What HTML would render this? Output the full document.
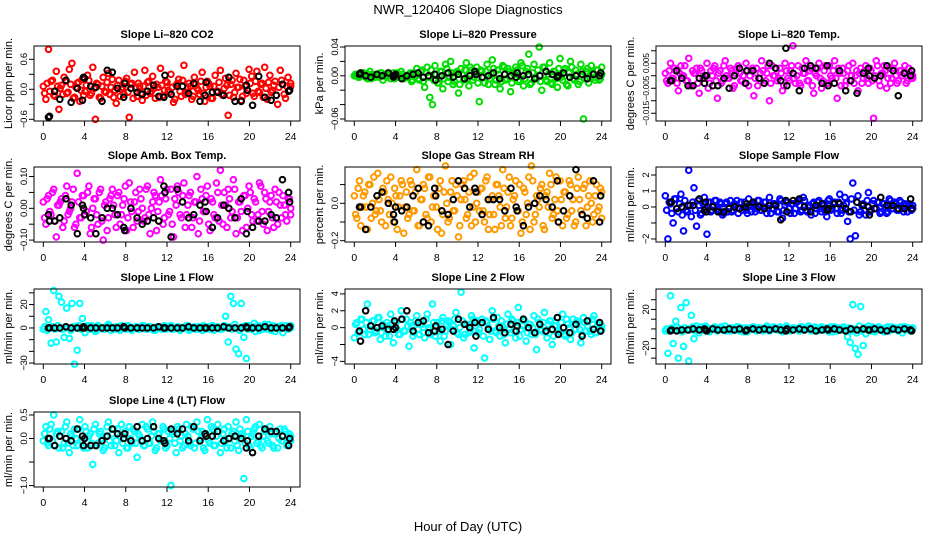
<!DOCTYPE html>
<html><head><meta charset="utf-8">
<style>
html,body{margin:0;padding:0;background:#fff;}
svg{display:block;font-family:"Liberation Sans",Arial,sans-serif;}
</style></head>
<body>
<svg id="chart" width="936" height="540" viewBox="0 0 936 540">
<text x="468" y="14" text-anchor="middle" font-size="13">NWR_120406  Slope Diagnostics</text>
<text x="468" y="531" text-anchor="middle" font-size="13">Hour of Day (UTC)</text>
</svg>
<script>
// ---- shared hour data ----
const blackHours = [0.5,0.6,1.1,1.6,2.2,2.7,3.3,3.8,3.9,4.0,4.6,5.1,5.7,6.2,6.7,7.2,7.8,7.9,8.5,9.1,9.6,10.1,10.7,11.2,11.7,11.8,12.4,13.0,13.5,14.1,14.6,15.2,15.7,15.8,16.4,16.9,17.5,18.0,18.6,19.2,19.7,19.8,20.3,20.9,21.5,22.1,22.6,23.2,23.8,23.9];
const xTicks = [0,4,8,12,16,20,24];

// ---- panel 1: CO2 (units of 0.02 ppm/min) ----
const co2Color = [3,-10,40,8,-6,18,-20,4,12,-4,20,26,-8,6,-12,10,-2,14,-6,22,-30,5,-9,12,-3,16,2,-8,-14,9,0,-5,11,-28,6,17,-7,3,-11,19,7,-4,13,-9,2,21,-6,8,-1,15,-13,4,10,-7,24,-3,6,-10,12,1,-5,17,-12,8,3,-9,14,-2,19,-6,11,-26,5,-8,16,2,-11,9,-4,20,13,-7,18,-3,6,22,-10,14,-1,8,-15,19,5,-9,12,3];
const co2Color2 = [-4,6,-2,9,-7,3,1,-5,8,-3,5,-9,2,7,-1,-6,4,9,-4,1,6,-8,3,-2,7,-5,10,-1,4,-7,2,8,-3,5,-9,1,6,-4,3,-6,8,-2,1,5,-8,4,-1,7,-3,2,-10,6,-2,9,-5,1,3,-7,5,-1,8,-4,2,6,-9,3,-2,7,-5,1,4,-6,9,-3,2,10,-7,3,-1,6,-4,8,-2,5,-8,1,7,-3,4,-6,2,9,-5,3,-1,6];
const co2Black = [-28,-27,-2,-10,9,-13,1,-11,12,11,3,2,-12,19,17,1,-8,6,1,-3,-5,-2,4,-7,-8,14,-5,3,3,-4,6,-12,-6,7,-3,-3,-6,12,-12,-12,4,-1,-16,13,-8,-11,-6,5,-2,-1];
// ---- panel 2: pressure (units of 0.002 kPa/min) ----
const presColor = [0,1,-1,2,0,-2,3,1,-1,0,2,-3,1,0,-2,2,1,-1,3,-2,0,1,-4,2,5,-3,4,-8,6,-15,-20,7,-5,3,-9,8,-4,10,-6,2,-12,5,-3,9,-7,4,-1,6,-18,3,-5,8,-2,11,-6,4,-9,7,-3,5,-11,2,6,-4,9,-7,3,15,-5,8,-2,20,-10,6,-4,9,-6,3,-8,12,-3,5,-7,10,-2,4,-6,8,-30,3,-5,7,-1,4,-3,6];
const presColor2 = [1,-1,0,2,-1,1,-2,0,1,-1,2,0,-1,1,0,-2,2,-1,1,0,-1,2,-3,1,-2,3,-4,2,-1,4,-3,1,-5,3,-2,5,-1,2,-4,3,-6,1,4,-2,6,-3,2,-5,4,-1,3,-6,2,5,-3,1,-4,6,-2,3,-5,1,4,-3,7,-2,5,-6,2,-1,4,-4,6,-3,1,-5,3,-2,5,-1,4,-6,2,6,-3,1,-4,3,-2,5,-1,2,-3,4,-2,1];
const presBlack = [1,2,0,-1,1,0,2,-1,0,1,-2,0,1,2,-1,0,1,-3,0,2,-1,1,-2,0,3,1,-1,0,2,-2,1,0,-1,2,0,1,-2,0,3,1,-1,0,2,-1,0,1,-2,1,0,2];
// ---- panel 3: Li-820 temp (units of 0.001 C/min) ----
const tempColor = [1,-3,5,-1,2,-6,4,0,-2,7,-4,1,3,-7,2,-1,5,-3,0,4,-9,2,-2,6,-1,3,-5,1,4,-2,0,5,-4,2,-8,3,-1,6,-3,1,-10,4,0,-2,3,-6,5,-1,2,12,-3,4,-4,1,6,-2,3,-7,0,5,-5,2,-3,4,-1,6,-9,1,3,-4,2,-2,5,0,-6,3,-1,4,-3,2,-17,6,-2,1,4,-5,3,-1,5,-3,2,0,4,-2,1,-1];
const tempColor2 = [-2,2,-1,3,-3,1,0,4,-2,-4,2,1,-3,3,-1,0,-5,2,3,-2,1,-3,4,0,-1,2,-4,3,1,-2,-3,2,0,3,-1,-4,1,2,-2,4,-3,0,3,-1,1,-4,2,-2,4,-1,0,-3,3,1,-2,2,-4,1,3,-1,-2,4,-3,0,2,-1,3,-4,1,-2,4,0,-3,2,1,-3,2,-1,3,-2,0,4,-4,1,2,-1,-3,3,0,-2,2,1,-3,3,-1,0];
const tempBlack = [-2,-2,2,-1,-4,-4,-1,-3,0,0,-4,-4,-1,-5,0,3,-3,2,2,-1,-3,5,3,-2,11,-4,1,-6,3,4,3,-3,4,-4,-3,2,-6,-2,-7,1,3,0,-1,0,4,2,-8,1,0,2];
// ---- panel 4: ambient box temp (units of 0.01 C/min) ----
const ambColor = [2,-5,4,-2,6,-9,1,3,-4,7,-1,2,-6,11,-3,4,-2,5,-8,0,3,-5,6,-10,2,-3,4,1,-6,5,-2,3,-7,8,-1,2,-4,6,0,-3,7,-8,2,4,-1,9,-5,3,-2,6,-9,1,5,-3,8,-2,4,-6,2,10,-4,3,-1,7,-7,2,-3,5,12,-5,1,6,-3,9,-8,2,-1,4,-6,7,-2,3,-4,8,-1,5,-7,2,-3,6,-5,1,4,-2,3,0];
const ambColor2 = [-3,3,-1,5,-4,1,2,-6,4,-2,0,6,-5,2,-3,4,-1,7,-6,3,-2,5,-4,1,-7,3,6,-2,4,-5,1,7,-3,2,-6,5,-1,3,-4,6,-2,0,5,-7,2,4,-3,6,-1,-5,3,7,-2,4,-6,1,5,-3,2,-8,6,-1,4,-5,3,-2,8,-4,1,5,-6,3,-1,6,-3,2,-7,4,0,5,-4,2,-2,7,-5,3,-1,4,-6,2,5,-3,1,-4,3,-2];
const ambBlack = [-2,-4,-4,-3,3,1,-8,1,0,-2,-3,-8,-3,0,0,-2,-6,-7,0,-3,-5,-4,-3,-4,7,5,-9,6,2,-3,-2,1,2,-1,-6,-3,1,0,-3,3,-8,-1,-6,-4,-4,-2,-3,9,5,2];
// ---- panel 5: gas stream RH (units of 0.02 %/min) ----
const rhColor = [2,-4,6,-1,3,-7,5,0,-3,8,-2,4,-6,1,7,-5,2,-1,6,-8,3,-3,5,-2,9,-6,1,4,-4,7,-1,2,-7,6,-3,10,-5,3,-2,5,-9,1,6,-4,3,-6,8,0,-2,4,-5,7,-3,2,-7,5,-1,9,-4,3,-6,1,6,-2,-8,4,-3,7,10,-5,2,-1,5,-7,3,8,-4,1,-2,6,-6,3,-3,5,1,-5,7,-2,4,-6,2,0,-3,5,-1,3];
const rhColor2 = [-3,4,-6,2,-1,5,-4,7,-2,1,-5,3,6,-3,0,4,-7,2,5,-1,-4,6,-2,3,-6,1,5,-3,7,-5,2,-1,4,-8,3,0,-4,6,-2,2,-6,5,1,-3,7,-1,-5,3,4,-2,6,-7,1,-3,5,2,-6,4,-1,7,-4,2,-2,5,-5,3,0,-7,6,-3,1,4,-6,2,-1,5,-3,7,-5,1,3,-4,6,-2,-6,4,1,-3,5,-1,6,-5,2,-2,4,-4];
const rhBlack = [-1,-1,-7,-1,2,3,0,-3,-5,-1,-2,-1,2,4,-5,-6,4,2,-2,-3,1,6,4,-1,4,3,-3,1,1,1,-2,4,-1,-2,-6,-1,0,2,1,-1,6,-5,-2,2,9,-3,-4,6,-5,2];
// ---- panel 6: sample flow (units of 0.1 mL/min per min) ----
const sflowColor = [7,-20,2,-10,5,-3,8,-15,-2,23,-6,12,-12,1,-4,6,-17,3,-2,4,-1,3,-5,2,-3,4,-2,1,-4,3,0,-2,5,-3,1,-1,4,-2,3,-4,6,-1,2,-3,5,-7,1,3,-4,2,-1,4,-3,6,-2,1,-5,3,-1,4,-3,2,-6,5,-1,3,-4,8,-2,6,-9,-20,15,-18,7,-3,2,-5,9,-2,4,-1,3,-3,2,-4,5,-1,3,-2,4,-1,2,-3,1,-1];
const sflowColor2 = [-2,3,-4,5,-1,2,-5,4,-3,1,3,-2,4,-5,2,-1,3,-3,1,4,-2,2,-4,3,0,-3,2,4,-1,-2,3,-4,1,2,-3,4,-2,0,3,-1,-4,2,1,-3,4,-2,3,-1,2,-4,3,1,-2,4,-3,0,2,-4,3,-1,1,-3,4,-2,2,-1,3,-4,1,2,-3,5,-2,3,-5,1,-2,4,-3,2,-1,3,-4,2,0,-3,4,-1,2,-2,3,-3,1,2,-2,1];
const sflowBlack = [3,3,-1,0,1,1,5,-2,3,-3,0,-3,-3,-1,0,-1,0,2,3,0,-1,1,1,-8,4,-3,4,5,0,-3,1,2,-2,-1,2,2,-1,-3,3,1,0,-5,-1,6,1,1,-1,-1,5,-1];
// ---- panel 7: line 1 flow (mL/min per min) ----
const l1Color = [-1,14,7,-13,32,-12,27,22,-8,17,-9,21,-31,-19,21,8,-4,2,-1,1,-3,2,0,-1,1,3,-2,0,1,-1,2,0,-1,1,-2,0,1,-1,2,0,-1,1,0,-2,1,0,1,-1,0,2,-1,0,1,-1,0,2,-2,0,1,-1,0,-2,1,0,-1,2,0,1,-1,0,10,-12,27,21,-18,-22,21,-8,-26,2,-1,4,0,-2,1,3,-1,0,2,-3,1,0,-4,2,-1,2];
const l1Color2 = [1,-2,0,1,-1,2,0,-1,1,0,-2,1,0,2,-1,0,1,-1,2,0,-2,1,0,-1,2,1,0,-1,1,-2,0,1,2,-1,0,1,-1,0,2,-1,1,0,-2,1,0,-1,2,0,1,-1,0,1,-2,0,1,2,-1,0,-1,1,0,2,-1,1,0,-2,1,0,-1,2,0,1,-1,3,0,-2,1,2,-1,0,1,-3,2,0,-1,1,3,-2,0,1,-1,2,0,-1,1,0];
const l1Black = [0,0,0,0,1,0,0,0,1,0,0,0,0,0,0,0,1,0,0,0,0,0,0,1,0,0,0,0,0,1,0,0,0,0,0,0,1,0,0,0,1,0,0,0,1,0,0,0,0,1];
// ---- panel 8: line 2 flow (units of 0.2 mL/min per min) ----
const l2Color = [-6,3,-2,5,-4,14,-1,4,-3,6,-7,2,-5,1,8,-9,3,-4,10,-2,5,-11,1,-3,7,-4,2,-6,8,-1,14,-5,3,-8,6,-2,4,-10,1,9,-4,21,-6,2,-3,7,-12,4,-1,5,-18,3,-7,10,-2,6,-5,1,-9,8,-3,4,-6,12,-1,5,-8,2,-4,7,-13,3,-2,9,-6,4,-10,1,6,-3,8,-5,2,-7,5,-1,3,-9,6,-2,4,-4,7,-3,2,-1];
const l2Color2 = [2,-3,5,-1,3,-4,1,4,-2,6,-3,0,3,-5,2,4,-1,-4,5,-2,1,3,-5,4,-1,2,-3,5,0,-4,3,1,-2,4,-5,2,3,-1,5,-3,0,4,-4,2,-2,5,1,-3,3,-5,4,0,-2,5,-3,1,4,-4,2,-1,5,-2,3,-5,1,4,-3,2,0,-4,5,-1,3,-3,2,4,-5,1,-2,3,-4,5,0,-3,2,4,-1,-4,3,1,-2,5,-3,2,-1,1];
const l2Black = [-2,-8,10,1,0,1,-1,-1,4,0,5,10,-2,3,4,-3,-2,1,-1,-10,-2,5,2,0,3,-5,3,-1,6,0,-3,2,-2,1,5,0,-3,2,-2,-1,6,-4,0,-3,2,-5,4,-1,3,-2];
// ---- panel 9: line 3 flow (mL/min per min) ----
const l3Color = [-2,-25,34,-15,8,-30,22,-18,27,-33,14,-10,3,-4,2,-1,1,-3,0,2,-2,1,-1,3,0,-2,1,-1,2,0,-3,1,-1,0,2,-2,1,0,-1,3,-2,0,1,-1,2,-3,0,1,-2,1,0,-1,2,-1,0,3,-2,1,-1,0,2,-1,1,-3,0,2,-2,1,0,-1,-8,-14,25,-20,-26,23,-17,-5,3,-2,1,-1,2,0,-3,1,-2,2,0,-1,1,-4,2,0,-2,1];
const l3Color2 = [0,-2,1,-1,2,0,-3,1,0,-1,2,-2,0,1,-1,3,-2,0,1,-1,0,2,-1,-2,1,0,-1,2,-2,1,0,-3,1,2,-1,0,1,-2,0,1,-1,2,0,-1,1,-2,3,0,-1,1,0,-2,2,-1,0,1,-1,2,-2,0,1,-1,0,2,-3,1,0,-1,2,-1,1,-2,0,-4,3,-2,1,0,-1,2,-3,1,0,-2,1,2,-1,0,1,-2,2,0,-1,1,-2,0];
const l3Black = [-2,-1,-2,-1,-1,0,-1,0,-1,-2,0,-1,-1,0,-1,0,-2,-1,0,-1,0,-1,0,-1,-2,0,-1,0,-1,0,-2,-1,0,-1,0,-1,-2,0,-1,0,-1,-1,0,-1,-2,0,-1,0,-1,-2];
// ---- panel 10: line 4 (LT) flow (units of 0.05 mL/min per min) ----
const l4Color = [-1,5,-3,6,10,2,-4,3,-2,7,-6,1,4,-3,8,-1,5,-4,2,-11,6,-2,3,-5,1,7,-3,4,-1,-6,6,2,-4,5,-2,3,-8,1,6,-3,4,-2,7,-5,2,-1,5,-4,3,-20,2,-6,4,1,-3,6,-2,5,-4,7,-1,3,-5,8,-2,4,-3,6,-6,2,-1,5,-4,3,7,-5,2,-17,8,-3,1,4,-2,6,-4,3,-1,5,-3,2,-4,4,-1,3,-2,1];
const l4Color2 = [2,-2,4,-1,-3,3,1,-4,5,-2,2,-3,0,4,-1,-4,3,1,-2,4,-3,2,0,-4,5,-1,2,-3,4,1,-2,3,-4,0,4,-2,2,-1,-3,5,-2,1,3,-4,2,-1,4,-3,0,3,-2,5,-1,-4,2,1,-3,4,-2,3,0,-4,2,-1,5,-3,1,3,-2,4,-4,0,2,-1,-3,4,1,-2,3,-4,2,5,-1,-3,1,4,-2,2,-4,3,0,-1,4,-3,2,-1];
const l4Black = [0,0,-3,1,0,-1,4,1,-3,0,-3,-3,-1,1,4,2,0,2,-1,5,-1,0,5,0,-1,-2,4,2,4,-1,5,-1,2,1,1,3,-1,0,1,0,-4,-1,-6,1,4,3,3,1,-3,0];

// ---- layout ----
const W = 266, H = 75;
const colLeft = [34, 345, 656];
const rowTop = [46, 167, 289, 412];
const NS = 'http://www.w3.org/2000/svg';
const svg = document.getElementById('chart');

const panels = [
 {name:'co2', title:'Slope Li\u2013820 CO2', ylab:'Licor ppm per min.', unit:0.02, color:'#ff0000', col:co2Color, col2:co2Color2, blk:co2Black, ymin:-0.634, ymax:0.866, ticks:[-0.6,-0.3,0,0.3,0.6], labels:[[-0.6,'\u22120.6'],[0,'0.0'],[0.6,'0.6']]},
 {name:'pressure', title:'Slope Li\u2013820 Pressure', ylab:'kPa per min.', unit:0.002, color:'#00dd00', col:presColor, col2:presColor2, blk:presBlack, ymin:-0.0628, ymax:0.0414, ticks:[-0.06,-0.04,-0.02,0,0.02,0.04], labels:[[-0.06,'\u22120.06'],[0,'0.00'],[0.04,'0.04']]},
 {name:'li820-temp', title:'Slope Li\u2013820 Temp.', ylab:'degrees C per min.', unit:0.001, color:'#ff00ff', col:tempColor, col2:tempColor2, blk:tempBlack, ymin:-0.0181, ymax:0.0119, ticks:[-0.015,-0.01,-0.005,0,0.005,0.01], labels:[[-0.015,'\u22120.015'],[-0.005,'\u22120.005'],[0.005,'0.005']], lfs:8.5},
 {name:'amb-box-temp', title:'Slope Amb. Box Temp.', ylab:'degrees C per min.', unit:0.01, color:'#ff00ff', col:ambColor, col2:ambColor2, blk:ambBlack, ymin:-0.106, ymax:0.13, ticks:[-0.1,-0.05,0,0.05,0.1], labels:[[-0.1,'\u22120.10'],[0,'0.00'],[0.1,'0.10']]},
 {name:'gas-stream-rh', title:'Slope Gas Stream RH', ylab:'percent per min.', unit:0.02, color:'#ff9900', col:rhColor, col2:rhColor2, blk:rhBlack, ymin:-0.207, ymax:0.194, ticks:[-0.2,-0.1,0,0.1], labels:[[-0.2,'\u22120.2'],[0,'0.0']]},
 {name:'sample-flow', title:'Slope Sample Flow', ylab:'ml/min per min.', unit:0.1, color:'#0000ff', col:sflowColor, col2:sflowColor2, blk:sflowBlack, ymin:-2.19, ymax:2.5, ticks:[-2,-1,0,1,2], labels:[[-2,'\u22122'],[0,'0'],[1,'1'],[2,'2']]},
 {name:'line1-flow', title:'Slope Line 1 Flow', ylab:'ml/min per min.', unit:1, color:'#00ffff', col:l1Color, col2:l1Color2, blk:l1Black, ymin:-30.8, ymax:33.3, ticks:[-30,-20,-10,0,10,20,30], labels:[[-30,'\u221230'],[0,'0'],[20,'20']]},
 {name:'line2-flow', title:'Slope Line 2 Flow', ylab:'ml/min per min.', unit:0.2, color:'#00ffff', col:l2Color, col2:l2Color2, blk:l2Black, ymin:-4.31, ymax:4.58, ticks:[-4,-2,0,2,4], labels:[[-4,'\u22124'],[0,'0'],[2,'2'],[4,'4']]},
 {name:'line3-flow', title:'Slope Line 3 Flow', ylab:'ml/min per min.', unit:1, color:'#00ffff', col:l3Color, col2:l3Color2, blk:l3Black, ymin:-36, ymax:41, ticks:[-30,-20,-10,0,10,20,30], labels:[[-20,'\u221220'],[20,'20']]},
 {name:'line4-flow', title:'Slope Line 4 (LT) Flow', ylab:'ml/min per min.', unit:0.05, color:'#00ffff', col:l4Color, col2:l4Color2, blk:l4Black, ymin:-1.03, ymax:0.563, ticks:[-1,-0.5,0,0.5], labels:[[-1,'\u22121.0'],[0,'0.0'],[0.5,'0.5']]}
];

function mk(tag, attrs, parent){
  const e = document.createElementNS(NS, tag);
  for (const k in attrs) e.setAttribute(k, attrs[k]);
  (parent||svg).appendChild(e);
  return e;
}

panels.forEach((p, idx) => {
  const L = colLeft[idx % 3], T = rowTop[Math.floor(idx / 3)];
  const g = mk('g', {});
  
  
  const xS = h => L + 9.3 + h * (W - 18.6) / 24;
  const yS = v => T + H - (v - p.ymin) / (p.ymax - p.ymin) * H;

  const title = mk('text', {x: L + W/2, y: T - 8, 'text-anchor':'middle', 'font-size':11, 'font-weight':'bold'}, g);
  title.textContent = p.title;
  
  

  const yl = mk('text', {x:0, y:0, transform:`translate(${L-22},${T+H/2}) rotate(-90)`, 'text-anchor':'middle', 'font-size':11}, g);
  yl.textContent = p.ylab;
  
  

  p.ticks.forEach(t => {
    const y = yS(t);
    const tk = mk('line', {x1:L-5, x2:L, y1:y, y2:y, stroke:'#000', 'stroke-width':1}, g);
    
    
  });
  p.labels.forEach(([v, s]) => {
    const y = yS(v);
    const t = mk('text', {x:0, y:0, transform:`translate(${L-7},${y}) rotate(-90)`, 'text-anchor':'middle', 'font-size':p.lfs || 9.5, 'letter-spacing':'-0.3'}, g);
    t.textContent = s;
    
    
  });
  const ax = mk('line', {x1:xS(0), x2:xS(24), y1:T+H, y2:T+H, stroke:'#000', 'stroke-width':1}, g);
  
  
  xTicks.forEach(h => {
    const x = xS(h);
    const tk = mk('line', {x1:x, x2:x, y1:T+H, y2:T+H+5, stroke:'#000', 'stroke-width':1}, g);
    
    
    const t = mk('text', {x:x, y:T+H+19, 'text-anchor':'middle', 'font-size':10.5}, g);
    t.textContent = String(h);
    
    
  });

  [p.col, p.col2].forEach((arr, k) => {
    const n = arr.length;
    const step = 24 / (n - 1);
    arr.forEach((v, i) => {
      const h = Math.min(24, i * step + k * step / 2);
      const c = mk('circle', {cx:xS(h), cy:yS(v * p.unit), r:2.8, fill:'none', stroke:p.color, 'stroke-width':2}, g);
      
      
    });
  });
  const m = Math.min(p.blk.length, blackHours.length);
  for (let i = 0; i < m; i++) {
    const c = mk('circle', {cx:xS(blackHours[i]), cy:yS(p.blk[i] * p.unit), r:2.8, fill:'none', stroke:'#000', 'stroke-width':2}, g);
    
    
  }
  const fr = mk('rect', {x:L, y:T, width:W, height:H, fill:'none', stroke:'#000', 'stroke-width':1}, g);
  
  
});
</script>
</body></html>
